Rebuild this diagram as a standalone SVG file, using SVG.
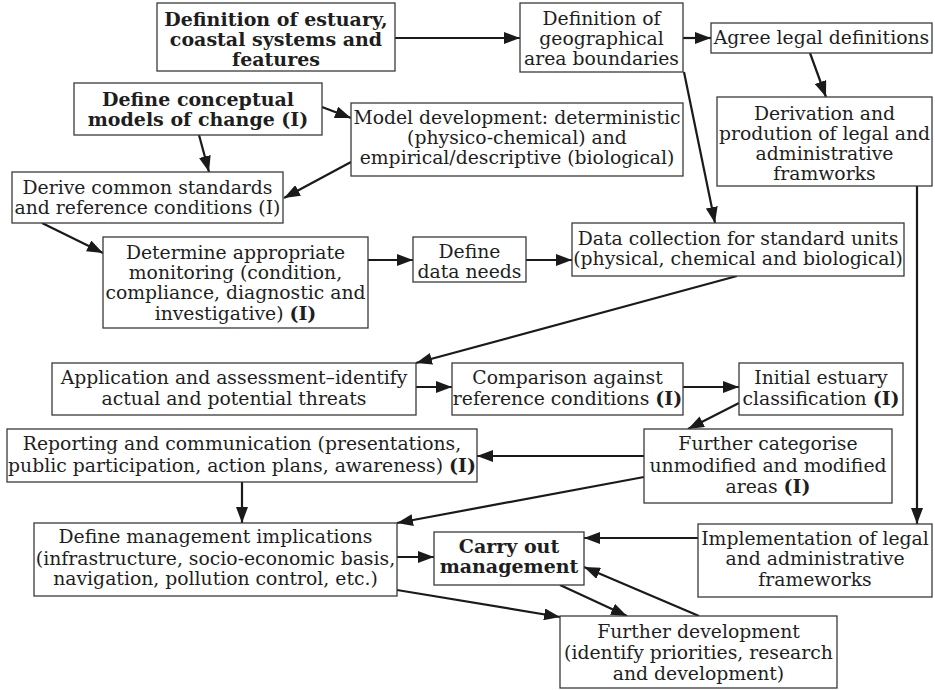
<svg xmlns="http://www.w3.org/2000/svg" width="935" height="690" viewBox="0 0 935 690">
<defs>
<style>
rect.box{fill:#fff;stroke:#3a3a3a;stroke-width:1.3}
text{font-family:"DejaVu Serif","Liberation Serif",serif;font-size:18.8px;fill:#1e1e1e;text-anchor:middle}
.b{font-weight:bold;font-size:19px}
#connectors path{fill:none;stroke:#1a1a1a;stroke-width:2.2;marker-end:url(#ah)}
</style>
<marker id="ah" viewBox="0 0 16 12" refX="16" refY="6" markerWidth="16" markerHeight="12" orient="auto" markerUnits="userSpaceOnUse"><path d="M0,0 L16,6 L0,12 z" fill="#1a1a1a"/></marker>
</defs>
<rect width="935" height="690" fill="#fff"/>
<g id="connectors">
<path d="M395,38 L520,38"/>
<path d="M683,38 L711,38"/>
<path d="M810,53 L826,97"/>
<path d="M684,72 L715,223"/>
<path d="M917,186 L917,524"/>
<path d="M322,107 L351,118"/>
<path d="M199,135 L209,172"/>
<path d="M351,162 L284,198"/>
<path d="M42,223 L103,253"/>
<path d="M368,260 L413,260"/>
<path d="M526,260 L572,260"/>
<path d="M737,276 L416,363"/>
<path d="M416,387 L452,387"/>
<path d="M683,387 L739,387"/>
<path d="M739,403 L688,429"/>
<path d="M644,456 L477,456"/>
<path d="M242,482 L242,523"/>
<path d="M644,477 L397,523"/>
<path d="M397,557 L434,557"/>
<path d="M698,538 L584,538"/>
<path d="M397,590 L560,617"/>
<path d="M560,585 L627,616"/>
<path d="M699,616 L584,567"/>
</g>
<g id="nA"><rect class="box" x="157" y="3" width="238" height="68"/>
<text class="b" x="276" y="26">Definition of estuary,</text>
<text class="b" x="276" y="46">coastal systems and</text>
<text class="b" x="276" y="66">features</text></g>
<g id="nB"><rect class="box" x="520" y="3" width="163" height="69"/>
<text x="601.5" y="25">Definition of</text>
<text x="601.5" y="45">geographical</text>
<text x="601.5" y="65">area boundaries</text></g>
<g id="nC"><rect class="box" x="711" y="23" width="221" height="30"/>
<text x="821.5" y="44">Agree legal definitions</text></g>
<g id="nD"><rect class="box" x="717" y="97" width="215" height="89"/>
<text x="824.5" y="120">Derivation and</text>
<text x="824.5" y="140">prodution of legal and</text>
<text x="824.5" y="160">administrative</text>
<text x="824.5" y="180">framworks</text></g>
<g id="nE"><rect class="box" x="74" y="83" width="248" height="52"/>
<text class="b" x="198" y="106">Define conceptual</text>
<text class="b" x="198" y="126">models of change (I)</text></g>
<g id="nF"><rect class="box" x="351" y="103" width="332" height="73"/>
<text x="517" y="124">Model development: deterministic</text>
<text x="517" y="144">(physico-chemical) and</text>
<text x="517" y="164">empirical/descriptive (biological)</text></g>
<g id="nG"><rect class="box" x="12" y="172" width="271" height="51"/>
<text x="147.5" y="194">Derive common standards</text>
<text x="147.5" y="214">and reference conditions (I)</text></g>
<g id="nH"><rect class="box" x="103" y="237" width="265" height="91"/>
<text x="235.5" y="259">Determine appropriate</text>
<text x="235.5" y="279">monitoring (condition,</text>
<text x="235.5" y="299">compliance, diagnostic and</text>
<text x="235.5" y="320">investigative) <tspan class="b">(I)</tspan></text></g>
<g id="nI"><rect class="box" x="413" y="237" width="113" height="45"/>
<text x="469.5" y="258">Define</text>
<text x="469.5" y="278">data needs</text></g>
<g id="nJ"><rect class="box" x="572" y="223" width="332" height="53"/>
<text x="738" y="245">Data collection for standard units</text>
<text x="738" y="265">(physical, chemical and biological)</text></g>
<g id="nK"><rect class="box" x="52" y="363" width="364" height="52"/>
<text x="234" y="384">Application and assessment–identify</text>
<text x="234" y="405">actual and potential threats</text></g>
<g id="nL"><rect class="box" x="452" y="363" width="231" height="52"/>
<text x="567.5" y="384">Comparison against</text>
<text x="567.5" y="405">reference conditions <tspan class="b">(I)</tspan></text></g>
<g id="nM"><rect class="box" x="739" y="363" width="164" height="52"/>
<text x="821" y="384">Initial estuary</text>
<text x="821" y="405">classification <tspan class="b">(I)</tspan></text></g>
<g id="nN"><rect class="box" x="7" y="429" width="470" height="53"/>
<text x="242" y="450">Reporting and communication (presentations,</text>
<text x="242" y="472">public participation, action plans, awareness) <tspan class="b">(I)</tspan></text></g>
<g id="nO"><rect class="box" x="644" y="429" width="248" height="74"/>
<text x="768" y="450">Further categorise</text>
<text x="768" y="472">unmodified and modified</text>
<text x="768" y="493">areas <tspan class="b">(I)</tspan></text></g>
<g id="nP"><rect class="box" x="34" y="523" width="363" height="73"/>
<text x="215.5" y="543">Define management implications</text>
<text x="215.5" y="565">(infrastructure, socio-economic basis,</text>
<text x="215.5" y="585">navigation, pollution control, etc.)</text></g>
<g id="nQ"><rect class="box" x="434" y="532" width="150" height="53"/>
<text class="b" x="509" y="553">Carry out</text>
<text class="b" x="509" y="573">management</text></g>
<g id="nR"><rect class="box" x="698" y="524" width="234" height="73"/>
<text x="815" y="545">Implementation of legal</text>
<text x="815" y="565">and administrative</text>
<text x="815" y="586">frameworks</text></g>
<g id="nS"><rect class="box" x="560" y="616" width="277" height="72"/>
<text x="698.5" y="638">Further development</text>
<text x="698.5" y="659">(identify priorities, research</text>
<text x="698.5" y="680">and development)</text></g>
</svg>
